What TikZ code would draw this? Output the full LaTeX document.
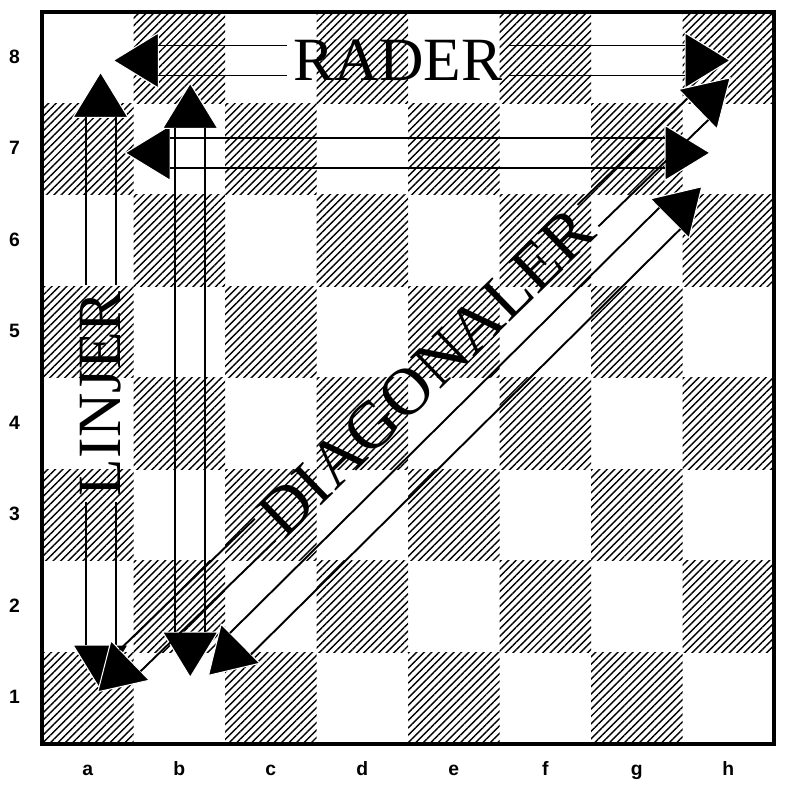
\documentclass[tikz,border=0pt]{standalone}
\usepackage{fontspec}
\setmainfont{Liberation Serif}
\setsansfont{Liberation Sans}
\usetikzlibrary{calc}
\usetikzlibrary{patterns.meta}

\newcommand\hlen{0.9cm}
\newcommand\hwid{0.55cm}
\newcommand\sgap{0.3cm}
\newcommand\arrhead[2]{%
  \coordinate (hb) at ($(#1)!\hlen!(#2)$);
  \filldraw[fill=black,draw=white,line width=0.6pt] (#1) -- ($(hb)!\hwid!90:(#2)$) -- ($(hb)!\hwid!-90:(#2)$) -- cycle;}
\newcommand\bothheads[3]{%
  \coordinate (#1a) at ($(#2)!\hlen!(#3)$);
  \coordinate (#1b) at ($(#3)!\hlen!(#2)$);
  \arrhead{#2}{#3}\arrhead{#3}{#2}}
\newcommand\dblshaft[2]{%
  \draw ($(#1)!\sgap!90:(#2)$) -- ($(#2)!\sgap!-90:(#1)$);
  \draw ($(#1)!\sgap!-90:(#2)$) -- ($(#2)!\sgap!90:(#1)$);}

\begin{document}
\begin{tikzpicture}[x=1.83cm,y=1.83cm,line width=1.1pt,
  bigtext/.style={font=\fontsize{35}{35}\selectfont,inner sep=3pt},
  coord/.style={font=\sffamily\bfseries\fontsize{11}{13}\selectfont,text height=1.6ex,text depth=0.2ex}]
\useasboundingbox (-0.459,-0.536) rectangle (8.284,8.131);
\foreach \x in {0,...,7}
  \foreach \y in {0,2,4,6}{
    \pgfmathtruncatemacro\yy{\y+mod(\x,2)}
    \fill[pattern={Lines[angle=45,distance=3pt,line width=0.8pt]}] (\x,\yy) rectangle ++(1,1);}
\draw[line width=2.4pt] (0,0) rectangle (8,8);
\foreach \r in {1,...,8} \node[coord] (rank\r) at (-0.3,\r-0.5) {\r};
\foreach \f [count=\i] in {a,...,h} \node[coord] (file\f) at (\i-0.5,-0.28) {\f};

\coordinate (r8w) at (0.78,7.47);
\coordinate (r8e) at (7.52,7.47);
\node[bigtext] (rader) at (3.89,7.47) {RADER};
\bothheads{r8}{r8w}{r8e}
\dblshaft{r8a}{rader.west}
\dblshaft{rader.east}{r8b}

\coordinate (r7w) at (0.91,6.46);
\coordinate (r7e) at (7.30,6.46);
\bothheads{r7}{r7w}{r7e}
\dblshaft{r7a}{r7b}

\coordinate (fan) at (0.64,7.34);
\coordinate (fas) at (0.64,0.59);
\node[bigtext,rotate=90] (linjer) at (0.64,3.83) {LINJER};
\bothheads{fa}{fas}{fan}
\dblshaft{faa}{linjer.west}
\dblshaft{linjer.east}{fab}

\coordinate (fbn) at (1.62,7.22);
\coordinate (fbs) at (1.62,0.73);
\bothheads{fb}{fbs}{fbn}
\dblshaft{fba}{fbb}

\coordinate (d1s) at (0.61,0.57);
\coordinate (d1n) at (7.52,7.28);
\node[bigtext,font=\fontsize{38}{38}\selectfont,rotate=44.2] (diag) at ($(d1s)!0.52!(d1n)$) {DIAGONALER};
\bothheads{d1}{d1s}{d1n}
\dblshaft{d1a}{diag.west}
\dblshaft{diag.east}{d1b}

\coordinate (d2s) at (1.82,0.75);
\coordinate (d2n) at (7.21,6.09);
\bothheads{d2}{d2s}{d2n}
\dblshaft{d2a}{d2b}
\end{tikzpicture}
\end{document}
